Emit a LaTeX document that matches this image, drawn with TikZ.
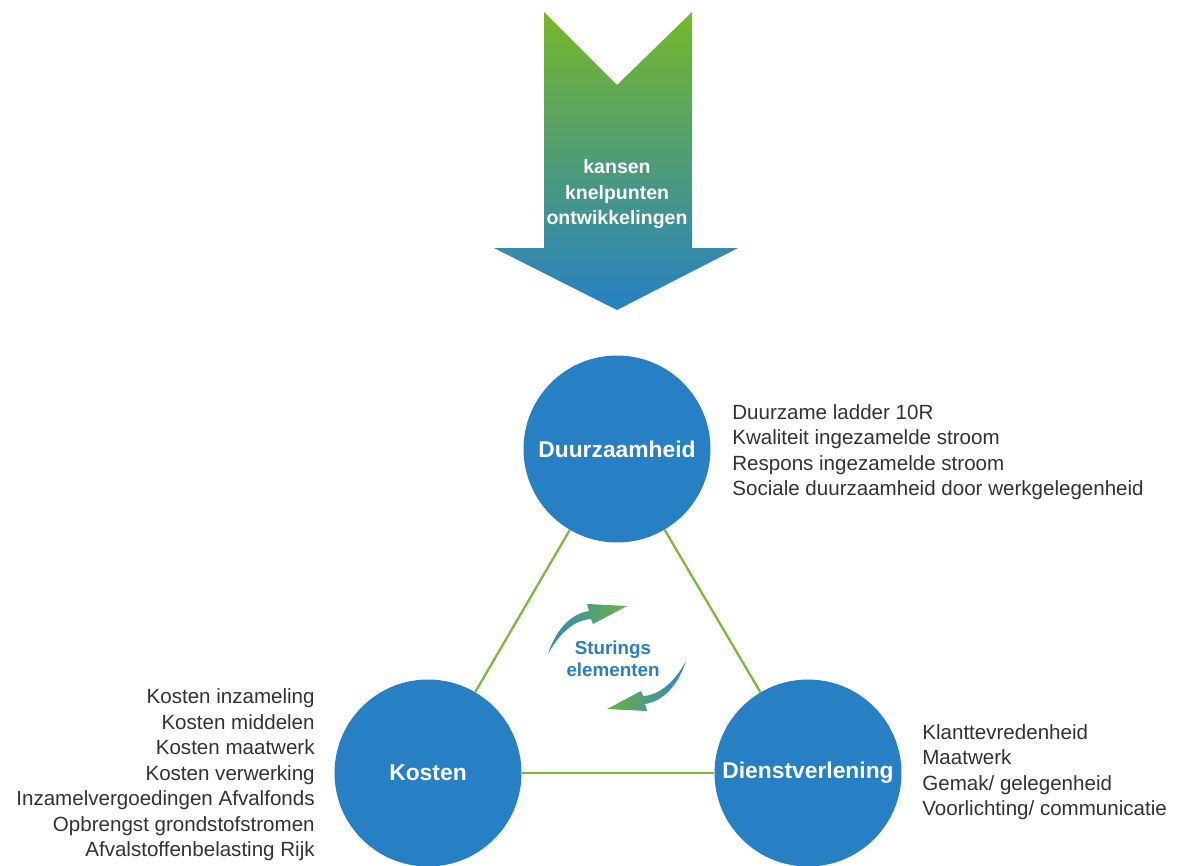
\documentclass[tikz,border=0pt]{standalone}
\usepackage{fontspec}
\setmainfont{Liberation Sans}
\definecolor{circblue}{HTML}{2780C4}
\definecolor{linkgreen}{HTML}{7DBA3A}
\definecolor{topgreen}{HTML}{76B82A}
\definecolor{tailblue}{HTML}{2E88BE}
\definecolor{headgreen}{HTML}{6CB33F}
\definecolor{textgray}{HTML}{333333}
\begin{document}
\begin{tikzpicture}[x=0.02cm,y=-0.02cm,
    circ/.style={circle,fill=circblue,minimum size=3.74cm,inner sep=0pt,text=white,font=\fontsize{13}{15}\selectfont\bfseries},
    link/.style={linkgreen,line width=1.3pt},
    list/.style={text=textgray,inner sep=0pt,font=\fontsize{11.7}{14.5}\selectfont}]
    \useasboundingbox (0,0) rectangle (1182,865);

    % big arrow
    \shade[top color=topgreen,bottom color=circblue] (544,12) -- (617,85) -- (692,12) -- (692,248) -- (738,248) -- (617,310) -- (494,248) -- (544,248) -- cycle;
    \node[align=center,text=white,font=\fontsize{11.1}{14.3}\selectfont\bfseries] (input) at (617,194) {kansen\\knelpunten\\ontwikkelingen};

    \node[circ] (duur) at (617,449) {Duurzaamheid};
    \node[circ] (kost) at (428,773) {Kosten};
    \node[circ] (dienst) at (808,773) {Dienstverlening};

    \draw[link] (duur) -- (kost);
    \draw[link] (duur) -- (dienst);
    \draw[link] (kost) -- (dienst);

    % curved arrows
    \shade[left color=tailblue,right color=headgreen] (548,654) .. controls (556,630) and (570,614) .. (589,611) -- (587,604) -- (627,606) -- (593,624) -- (591,619) .. controls (575,620) and (560,632) .. (548,654) -- cycle;
    \shade[left color=headgreen,right color=tailblue] (686,661) .. controls (678,685) and (664,701) .. (645,704) -- (647,711) -- (607,709) -- (641,691) -- (643,696) .. controls (659,695) and (674,683) .. (686,661) -- cycle;
    \node[align=center,text=circblue,font=\fontsize{10.7}{12.5}\selectfont\bfseries] (sturing) at (613,659) {Sturings\\elementen};

    \node[list,align=left,anchor=west] (duurlist) at (732,452) {Duurzame ladder 10R\\Kwaliteit ingezamelde stroom\\Respons ingezamelde stroom\\Sociale duurzaamheid door werkgelegenheid};
    \node[list,align=right,anchor=east] (kostlist) at (315,775) {Kosten inzameling\\Kosten middelen\\Kosten maatwerk\\Kosten verwerking\\Inzamelvergoedingen Afvalfonds\\Opbrengst grondstofstromen\\Afvalstoffenbelasting Rijk};
    \node[list,align=left,anchor=west] (dienstlist) at (922,772) {Klanttevredenheid\\Maatwerk\\Gemak/ gelegenheid\\Voorlichting/ communicatie};
\end{tikzpicture}
\end{document}
